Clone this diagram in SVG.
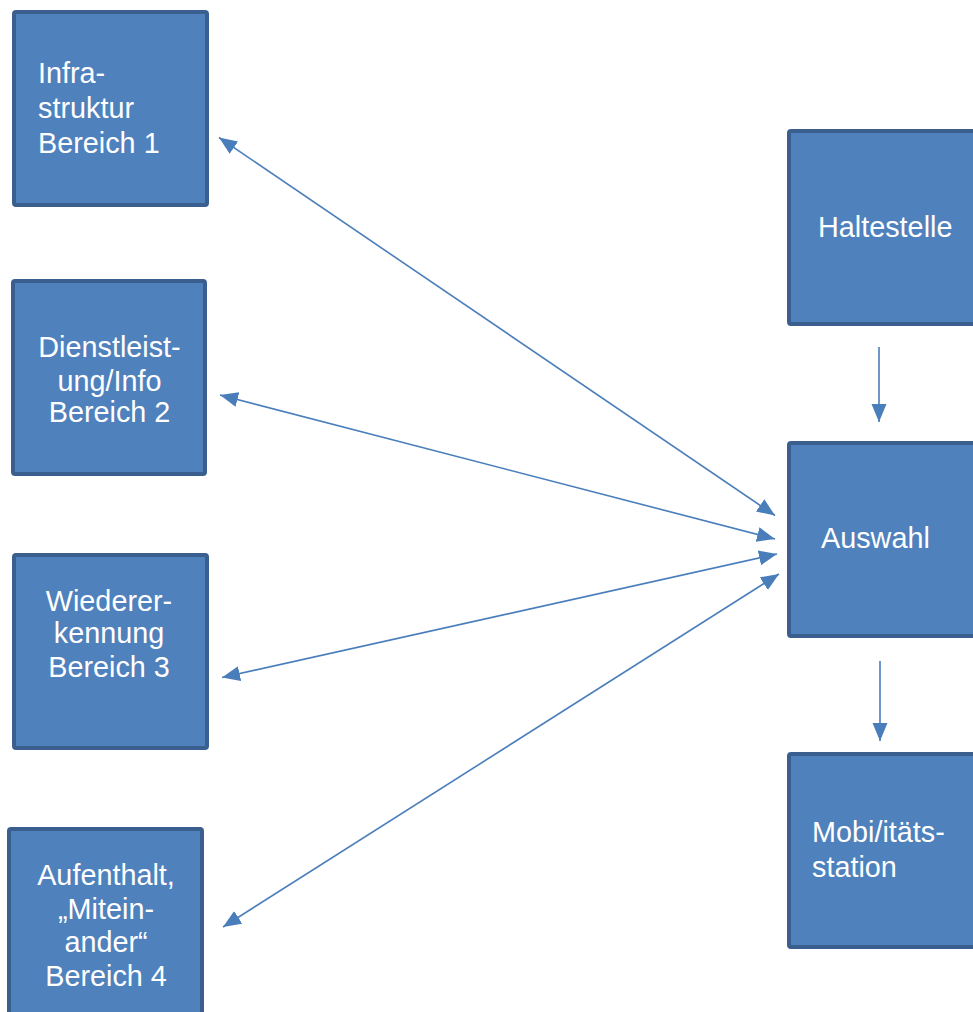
<svg xmlns="http://www.w3.org/2000/svg" width="973" height="1012" viewBox="0 0 973 1012">
<defs>
<style>
.box{fill:#4F81BD;stroke:#3A5F8F;stroke-width:4}
.t{font-family:"Liberation Sans",Arial,sans-serif;font-size:28.8px;fill:#FFFFFF}
.c{text-anchor:middle}
.conn{stroke:#4A7EBB;stroke-width:1.6;fill:none}
</style>
<marker id="ah" markerUnits="userSpaceOnUse" markerWidth="20" markerHeight="16" refX="18" refY="7.5" orient="auto-start-reverse" viewBox="0 0 20 16">
<path d="M0,0 L18,7.5 L0,15 Z" fill="#4A7EBB"/>
</marker>
</defs>
<rect width="973" height="1012" fill="#FFFFFF"/>
<g id="n1"><rect class="box" x="14" y="12" width="193" height="193" rx="2"/>
<text class="t" x="38" y="83">Infra-</text><text class="t" x="38" y="118">struktur</text><text class="t" x="38" y="153">Bereich 1</text></g>
<g id="n2"><rect class="box" x="13" y="281" width="192" height="193" rx="2"/>
<text class="t c" x="109.5" y="357">Dienstleist-</text><text class="t c" x="109.5" y="391">ung/Info</text><text class="t c" x="109.5" y="422">Bereich 2</text></g>
<g id="n3"><rect class="box" x="14" y="555" width="193" height="193" rx="2"/>
<text class="t c" x="109" y="611">Wiederer-</text><text class="t c" x="109" y="643">kennung</text><text class="t c" x="109" y="677">Bereich 3</text></g>
<g id="n4"><rect class="box" x="9" y="829" width="193" height="193" rx="2"/>
<text class="t c" x="106" y="885">Aufenthalt,</text><text class="t c" x="106" y="919">„Mitein-</text><text class="t c" x="106" y="952">ander“</text><text class="t c" x="106" y="986">Bereich 4</text></g>
<g id="n5"><rect class="box" x="789" y="131" width="193" height="193" rx="2"/>
<text class="t" x="818" y="237">Haltestelle</text></g>
<g id="n6"><rect class="box" x="789" y="443" width="193" height="193" rx="2"/>
<text class="t" x="821" y="548">Auswahl</text></g>
<g id="n7"><rect class="box" x="789" y="754" width="193" height="193" rx="2"/>
<text class="t" x="812" y="842">Mobi/itäts-</text><text class="t" x="812" y="877">station</text></g>
<g id="connectors">
<line class="conn" x1="219" y1="137.5" x2="775" y2="515.5" marker-start="url(#ah)" marker-end="url(#ah)"/>
<line class="conn" x1="220" y1="395" x2="775" y2="539" marker-start="url(#ah)" marker-end="url(#ah)"/>
<line class="conn" x1="222" y1="677.5" x2="777" y2="554" marker-start="url(#ah)" marker-end="url(#ah)"/>
<line class="conn" x1="223" y1="927" x2="779" y2="574" marker-start="url(#ah)" marker-end="url(#ah)"/>
<line class="conn" x1="879" y1="347" x2="879" y2="422" marker-end="url(#ah)"/>
<line class="conn" x1="880" y1="661" x2="880" y2="741" marker-end="url(#ah)"/>
</g>
</svg>
